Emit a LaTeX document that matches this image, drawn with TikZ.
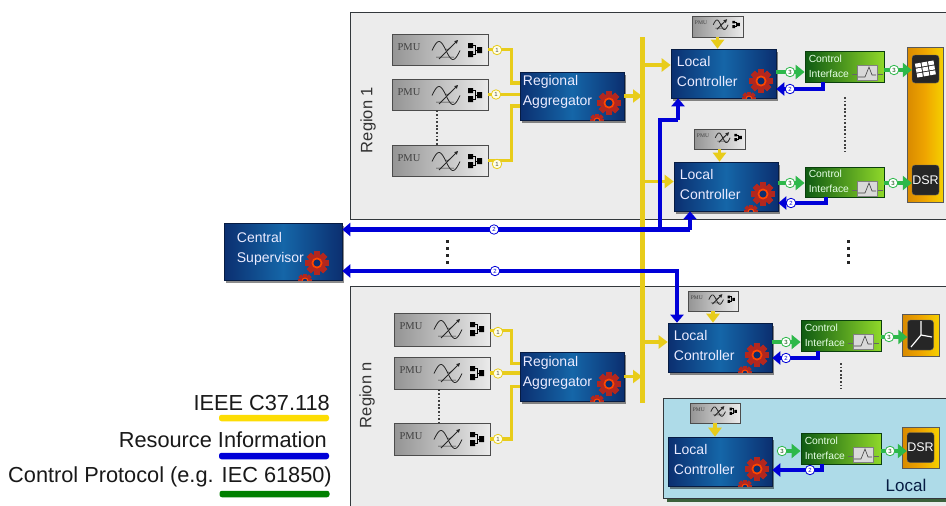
\documentclass[tikz,border=0pt]{standalone}
\usepackage{fontspec}
\setmainfont{Liberation Sans}
\newfontfamily\serifpmu{Liberation Serif}
\usetikzlibrary{arrows.meta,shadows,calc}
\definecolor{ylw}{HTML}{E8CC1A}
\definecolor{blu}{HTML}{0000D8}
\definecolor{grn}{HTML}{2DB84A}
\definecolor{navyA}{HTML}{0B2F70}
\definecolor{navyB}{HTML}{1566A8}
\definecolor{gearred}{HTML}{B3271E}
\definecolor{regiongray}{HTML}{ECECEC}
\definecolor{edgedark}{HTML}{33383C}
\definecolor{ciA}{HTML}{0E5A12}
\definecolor{ciB}{HTML}{8FD82A}
\definecolor{devA}{HTML}{D88A00}
\definecolor{devB}{HTML}{EFA500}
\definecolor{devC}{HTML}{F5D000}
\definecolor{localblue}{HTML}{AEDBE8}
\tikzset{
  regionbox/.style={fill=regiongray,draw=edgedark,line width=1pt},
  bluebox/.style={rectangle,inner sep=0pt,draw=navyA!60!black,line width=.6pt,left color=navyA,right color=navyA,middle color=navyB,
     drop shadow={shadow xshift=2pt,shadow yshift=-2.5pt,fill=black,opacity=.45}},
  boxtext/.style={text=white!92!blue,align=left,inner sep=0pt,font=\fontsize{14}{20}\selectfont},
  cibox/.style={rectangle,inner sep=0pt,draw=ciA!70!black,line width=.8pt,left color=ciA,right color=ciB},
  citext/.style={text=white!90!green,align=left,inner sep=0pt,font=\fontsize{10.3}{15}\selectfont},
  pmubox/.style={rectangle,inner sep=0pt,draw=black!70,line width=.8pt,left color=black!42,right color=black!8},
  devbox/.style={rectangle,inner sep=0pt,draw=black!65,line width=.8pt,left color=devA,right color=devC,middle color=devB},
  darkicon/.style={rectangle,rounded corners=3pt,inner sep=0pt,fill=black!85,draw=black!60},
  yline/.style={draw=ylw,line width=3.8pt},
  yarrow/.style={draw=ylw,line width=3.8pt,-{Triangle[length=9pt,width=13pt]}},
  barrow/.style={draw=blu,line width=4.6pt,-{Triangle[length=8pt,width=13pt]}},
  bline/.style={draw=blu,line width=4.6pt},
  garrow/.style={draw=grn,line width=4.8pt,-{Triangle[length=9pt,width=14pt]}},
  numdot/.style={circle,inner sep=0pt,minimum size=9.5pt,line width=.8pt,font=\fontsize{6}{6}\selectfont},
  ynum/.style={numdot,draw=ylw,fill=yellow!10,text=black!70},
  bnum/.style={numdot,draw=blu,fill=white,text=blu},
  gnum/.style={numdot,draw=grn,fill=white,text=green!30!black},
  vdots/.style={draw=black!85,line width=3pt,dash pattern=on 3pt off 4pt},
  fdots/.style={draw=black!75,line width=1.8pt,dash pattern=on 1.8pt off 1.8pt},
  legendtext/.style={anchor=east,inner sep=0pt,text=black!90,font=\fontsize{21.75}{24}\selectfont},
  regionlabel/.style={rotate=90,inner sep=0pt,text=black!80,font=\fontsize{16.5}{20}\selectfont},
  legbar/.style={rectangle,rounded corners=2.5pt,inner sep=0pt,minimum width=110pt,minimum height=6.5pt},
}
\newcommand{\gearat}[3]{%
  \begin{scope}[shift={({#1},{#2})}]
    \foreach \a in {0,45,...,315}{\fill[gearred,rotate=\a] ({-#3*.27},{-#3*1.05}) rectangle ({#3*.27},{#3*1.05});}
    \fill[gearred] (0,0) circle ({#3*.82});
    \fill[orange!55!red] (0,0) circle ({#3*.5});
    \fill[navyA] (0,0) circle ({#3*.32});
  \end{scope}}
\newcommand{\bbox}[6]{%
  \pgfmathsetmacro\bw{#4-#2}\pgfmathsetmacro\bh{#5-#3}%
  \node[bluebox,minimum width=\bw pt,minimum height=\bh pt] (#1) at ({(#2+#4)/2},{(#3+#5)/2}) {};
  \gearat{#4-#6}{#5-17}{11}
  \begin{scope}\clip (#2,#3) rectangle (#4,#5);\gearat{#4-#6-12}{#5+1}{7}\end{scope}}
\newcommand{\pmuunit}[5]{%
  \pgfmathsetmacro\bw{#4-#2}\pgfmathsetmacro\bh{#5-#3}\pgfmathsetmacro\sc{(#4-#2)/96}%
  \node[pmubox,minimum width=\bw pt,minimum height=\bh pt] (#1) at ({(#2+#4)/2},{(#3+#5)/2}) {};
  \begin{scope}[shift={(#2,#3)},scale=\sc,transform shape]
    \node[inner sep=0pt,text=black!75,font=\serifpmu\fontsize{10.5}{11}\selectfont] (#1-t) at (17,13) {PMU};
    \draw[black!85,line width=.8pt] plot[domain=0:28,samples=30,smooth] ({40+\x},{16.5-9*sin(\x/28*360)});
    \draw[black!85,line width=.5pt] (44,23) -- (62,23) (53,15) arc[start angle=120,end angle=30,radius=4];
    \draw[black!85,line width=.8pt,-{Triangle[length=3.5pt,width=3.5pt]}] (47,25) -- (66,6);
    \fill[black] (76,9) rectangle (81,14) (76,17) rectangle (81,23) (85,13) rectangle (90,19);
    \draw[black,line width=.5pt] (81,11) -- (83,11) -- (83,20) -- (81,20) (83,16) -- (85,16);
  \end{scope}}
\newcommand{\ctrlif}[5]{%
  \pgfmathsetmacro\bw{#4-#2}\pgfmathsetmacro\bh{#5-#3}%
  \node[cibox,minimum width=\bw pt,minimum height=\bh pt] (#1) at ({(#2+#4)/2},{(#3+#5)/2}) {};
  \node[citext,anchor=west] (#1-t) at ([xshift=4pt,yshift=.5pt]#1.west) {Control\\Interface};
  \begin{scope}[shift={(#2,#3)}]
    \draw[black!60,line width=.5pt] (47,23) -- (78,23);
    \fill[black!15,draw=black!50,line width=.4pt] (52,14) rectangle (72,29);
    \draw[black!75,line width=.6pt] (53,26) -- (60,26) -- (64,16) -- (67,24) -- (71,24);
  \end{scope}}
\begin{document}
\begin{tikzpicture}[x=1pt,y=-1pt]
\clip (0,0) rectangle (946,506);
\fill[white] (0,0) rectangle (946,506);
% regions
\draw[regionbox] (350,12) rectangle (952,219);
\draw[regionbox] (350,286) rectangle (952,515);
\fill[green!20!black,opacity=.75] (667,402) rectangle (952,502);
\draw[fill=localblue,draw=edgedark,line width=1pt] (663,398) rectangle (952,498);
\node[regionlabel] (r1label) at (368,120) {Region 1};
\node[regionlabel] (rnlabel) at (367,395) {Region n};
\node[inner sep=0pt,text=navyA!60!black,font=\fontsize{17}{20}\selectfont] (locallabel) at (906,485) {Local};
% bus
\coordinate (busT) at (642,37);
\coordinate (busB) at (642,403);
\draw[draw=ylw,line width=5pt] (busT) -- (busB);
% blocks
\pmuunit{pa}{392}{34}{488}{65}
\pmuunit{pb}{392}{79}{488}{110}
\pmuunit{pc}{392}{145}{488}{176}
\pmuunit{pd}{394}{313}{490}{346}
\pmuunit{pe}{394}{357}{490}{389}
\pmuunit{pf}{394}{423}{490}{455}
\pmuunit{sa}{692}{16}{743}{37}
\pmuunit{sb}{694}{129}{745}{149}
\pmuunit{sc}{688}{291}{738}{311}
\pmuunit{sd}{690}{403}{740}{423}
\bbox{raa}{520}{72}{624}{120}{15}
\bbox{rab}{520}{352}{624}{401}{15}
\bbox{lca}{671}{49}{776}{98}{15}
\bbox{lcb}{674}{162}{778}{211}{15}
\bbox{lcc}{668}{323}{772}{372}{15}
\bbox{lcd}{668}{437}{772}{486}{15}
\bbox{cs}{224}{223}{342}{280}{25}
\node[boxtext,anchor=west] (raa-t) at ([xshift=3pt,yshift=4pt]raa.west) {Regional\\Aggregator};
\node[boxtext,anchor=west] (rab-t) at ([xshift=3pt,yshift=4pt]rab.west) {Regional\\Aggregator};
\node[boxtext,anchor=west] (lca-t) at ([xshift=6pt,yshift=2.5pt]lca.west) {Local\\Controller};
\node[boxtext,anchor=west] (lcb-t) at ([xshift=6pt,yshift=2.5pt]lcb.west) {Local\\Controller};
\node[boxtext,anchor=west] (lcc-t) at ([xshift=6pt,yshift=2.5pt]lcc.west) {Local\\Controller};
\node[boxtext,anchor=west] (lcd-t) at ([xshift=6pt,yshift=2.5pt]lcd.west) {Local\\Controller};
\node[boxtext,anchor=west] (cs-t) at ([xshift=13pt,yshift=2.5pt]cs.west) {Central\\Supervisor};
\ctrlif{cia}{805}{51}{884}{82}
\ctrlif{cib}{805}{167}{884}{197}
\ctrlif{cic}{801}{320}{881}{351}
\ctrlif{cid}{801}{433}{881}{464}
% devices
\node[devbox,minimum width=36pt,minimum height=155pt] (col) at (925,124.5) {};
\node[darkicon,minimum width=27pt,minimum height=28pt] (grid) at (925.5,69) {};
\begin{scope}[rotate around={10:(925.5,69)}]
  \foreach \i in {0,1,2}{\foreach \j in {0,1,2}{\fill[white] ({916+\i*6.6},{62+\j*5}) rectangle ++(5.6,4);}}
\end{scope}
\node[darkicon,minimum width=27pt,minimum height=30pt,text=white,font=\fontsize{12.5}{14}\selectfont] (dsra) at (925.5,180) {DSR};
\node[devbox,minimum width=37pt,minimum height=42pt] (wbox) at (920.5,335) {};
\node[darkicon,minimum width=26pt,minimum height=30pt] (wind) at (920.5,335) {};
\draw[white,line width=1.2pt] (921,321) -- (921,335) -- (932,337) (921,335) -- (911,347);
\node[devbox,minimum width=37pt,minimum height=41pt] (dbox) at (920.5,447.5) {};
\node[darkicon,minimum width=27pt,minimum height=30pt,text=white,font=\fontsize{12.5}{14}\selectfont] (dsrb) at (920.5,447.5) {DSR};
% yellow connectors
\draw[yline] (pa.east) -- ++(23,0) |- ([yshift=13pt]raa.west);
\draw[yline] (pb.east) -- (pb.east -| raa.west);
\draw[yline] (pc.east) -- ++(23,0) |- ([yshift=-10pt]raa.west);
\draw[yline] ([yshift=-1pt]pd.east) -- ++(21,0) |- ([yshift=13pt]rab.west);
\draw[yline] (pe.east) -- (pe.east -| rab.west);
\draw[yline] (pf.east) -- ++(21,0) |- ([yshift=-10pt]rab.west);
\node[ynum] (na) at (497,50) {1};
\node[ynum] (nb) at (496,94.5) {1};
\node[ynum] (nc) at (497,164) {1};
\node[ynum] (nd) at (498,332) {1};
\node[ynum] (ne) at (498,373.5) {1};
\node[ynum] (nf) at (498,439) {1};
\draw[yarrow] (raa.east) -- (raa.east -| busT);
\draw[yarrow] (rab.east) -- (rab.east -| busT);
\draw[yarrow] ([yshift=8.5pt]lca.west -| busT) -- ([yshift=8.5pt]lca.west);
\draw[yarrow] ([yshift=5pt]lcb.west -| busT) -- ([yshift=5pt]lcb.west);
\draw[yarrow] ([yshift=5.5pt]lcc.west -| busT) -- ([yshift=5.5pt]lcc.west);
\draw[yarrow] (sa.south) -- (sa.south |- lca.north);
\draw[yarrow] (sb.south) -- (sb.south |- lcb.north);
\draw[yarrow] (sc.south) -- (sc.south |- lcc.north);
\draw[yarrow] (sd.south) -- (sd.south |- lcd.north);
% dots
\draw[fdots] ([xshift=-3pt]pb.south) -- ([xshift=-3pt]pc.north);
\draw[fdots] ([xshift=-3pt]pe.south) -- ([xshift=-3pt]pf.north);
\coordinate (dA) at (447,240); \coordinate (dB) at (447,266);
\coordinate (dC) at (848,240); \coordinate (dD) at (848,266);
\coordinate (dE) at (845,97);  \coordinate (dF) at (845,152);
\coordinate (dG) at (841,363); \coordinate (dH) at (841,389);
\draw[vdots] (dA) -- (dB);
\draw[vdots] (dC) -- (dD);
\draw[fdots] (dE) -- (dF);
\draw[fdots] (dG) -- (dH);
% green
\coordinate (cg1) at (790,72);
\coordinate (cg2) at (894,70);
\coordinate (cg3) at (790,183);
\coordinate (cg4) at (893,183);
\coordinate (cg5) at (786,342);
\coordinate (cg6) at (889,337);
\coordinate (cg7) at (782,451);
\coordinate (cg8) at (890,451);
\draw[garrow] (cg1 -| lca.east) -- (cg1 -| cia.west);
\draw[garrow] (cg2 -| cia.east) -- (cg2 -| grid.west);
\draw[garrow] (cg3 -| lcb.east) -- (cg3 -| cib.west);
\draw[garrow] (cg4 -| cib.east) -- (cg4 -| dsra.west);
\draw[garrow] (cg5 -| lcc.east) -- (cg5 -| cic.west);
\draw[garrow] (cg6 -| cic.east) -- (cg6 -| wind.west);
\draw[garrow] (cg7) -- (cg7 -| cid.west);
\draw[garrow] (cg8 -| cid.east) -- (cg8 -| dsrb.west);
\node[gnum] (g1) at (cg1) {3};
\node[gnum] (g2) at (cg2) {3};
\node[gnum] (g3) at (cg3) {3};
\node[gnum] (g4) at (cg4) {3};
\node[gnum] (g5) at (cg5) {3};
\node[gnum] (g6) at (cg6) {3};
\node[gnum] (g7) at (cg7) {3};
\node[gnum] (g8) at (cg8) {3};
% blue
\coordinate (ja) at (690,229.5);
\coordinate (jb) at (660,229.5);
\coordinate (jc) at (677,271);
\coordinate (jd) at (660,120);
\coordinate (je) at (678,120);
\draw[barrow] (ja) -- (ja -| cs.east);
\draw[barrow] (ja) -- (ja |- lcb.south);
\draw[bline] (jb) -- (jd) -- (je);
\draw[barrow] (je) -- (je |- lca.south);
\draw[draw=blu,line width=4.6pt,{Triangle[length=8pt,width=13pt]}-{Triangle[length=8pt,width=13pt]}] (jc -| cs.east) -- (jc) -- (jc |- lcc.north);
\node[bnum] (b1) at (494,229.5) {2};
\node[bnum] (b2) at (495,271) {2};
\coordinate (ka) at (823,89);
\coordinate (kb) at (826,203);
\coordinate (kc) at (818,358);
\coordinate (kd) at (822,470);
\draw[barrow] (cia.south -| ka) -- (ka) -- (ka -| lca.east);
\draw[barrow] (cib.south -| kb) -- (kb) -- (kb -| lcb.east);
\draw[barrow] (cic.south -| kc) -- (kc) -- (kc -| lcc.east);
\draw[barrow] (cid.south -| kd) -- (kd) -- (kd -| lcd.east);
\node[bnum] (b3) at (790,89) {2};
\node[bnum] (b4) at (791,203) {2};
\node[bnum] (b5) at (786,358) {2};
\node[bnum] (b6) at (810,470) {2};
% legend
\node[legendtext] (la) at (330,403) {IEEE C37.118};
\node[legendtext] (lb) at (327,440) {Resource Information};
\node[legendtext] (lc) at (332,477) {Control Protocol (e.g. IEC 61850)};
\node[legbar,fill=yellow!80!orange] (ba) at (274,418) {};
\node[legbar,fill=blu] (bb) at (274,456) {};
\node[legbar,fill=green!50!black] (bc) at (274.5,494) {};
\end{tikzpicture}
\end{document}
